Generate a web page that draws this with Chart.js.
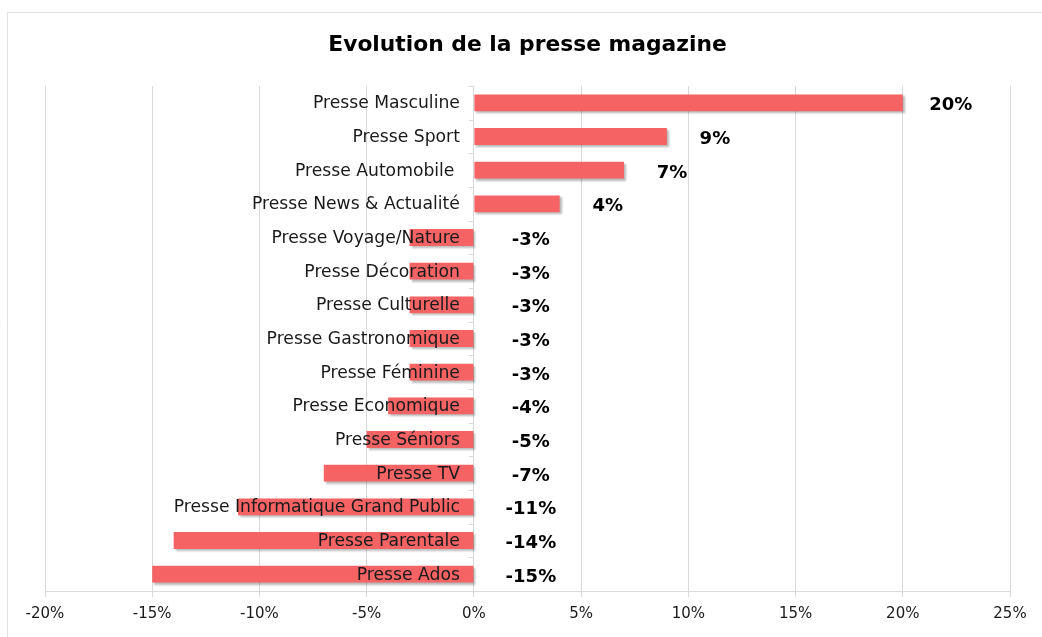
<!DOCTYPE html>
<html>
<head>
<meta charset="utf-8">
<script src="https://cdn.jsdelivr.net/npm/chart.js@4/dist/chart.umd.min.js"></script>
<style>
  html, body { margin: 0; padding: 0; background: #fff; }
  #wrap { width: 1042px; height: 637px; position: relative; }
</style>
</head>
<body>
<div id="wrap"><canvas id="chart" width="1042" height="637"></canvas></div>
<script>
/* =========================
   DATA
========================= */
const categories = [
  "Presse Masculine",
  "Presse Sport",
  "Presse Automobile ",
  "Presse News & Actualité",
  "Presse Voyage/Nature",
  "Presse Décoration",
  "Presse Culturelle",
  "Presse Gastronomique",
  "Presse Féminine",
  "Presse Economique",
  "Presse Séniors",
  "Presse TV",
  "Presse Informatique Grand Public",
  "Presse Parentale",
  "Presse Ados"
];
const evolution = [20, 9, 7, 4, -3, -3, -3, -3, -3, -4, -5, -7, -11, -14, -15];
const axisMin = -20;
const axisMax = 25;
const axisStep = 5;

const FONT = "'DejaVu Sans', Verdana, sans-serif";
const BAR_COLOR = "#f56364";
const GRID_COLOR = "#d9d9d9";

/* =========================
   PLUGINS
========================= */
// thin frame around the chart (top + left, like the original export)
const framePlugin = {
  id: "frame",
  beforeDraw(chart) {
    const ctx = chart.ctx;
    ctx.save();
    ctx.strokeStyle = "#e0e0e0";
    ctx.lineWidth = 1;
    ctx.beginPath();
    ctx.moveTo(7.5, chart.height);
    ctx.lineTo(7.5, 12.5);
    ctx.lineTo(chart.width, 12.5);
    ctx.stroke();
    ctx.restore();
  }
};

// soft drop shadow under the bars + labels on top
const barLabels = {
  id: "barLabels",
  beforeDatasetsDraw(chart) {
    const ctx = chart.ctx;
    ctx.save();
    ctx.shadowColor = "rgba(0,0,0,0.28)";
    ctx.shadowOffsetX = 2;
    ctx.shadowOffsetY = 2;
    ctx.shadowBlur = 2;
  },
  afterDatasetsDraw(chart) {
    const ctx = chart.ctx;
    ctx.restore();

    const x = chart.scales.x;
    const y = chart.scales.y;
    const zero = x.getPixelForValue(0);

    // small tick marks left of the zero axis, between categories
    ctx.save();
    ctx.strokeStyle = GRID_COLOR;
    ctx.lineWidth = 1;
    ctx.beginPath();
    for (let i = 0; i <= categories.length; i++) {
      const py = Math.round(y.getPixelForValue(i - 0.5)) + 0.5;
      ctx.moveTo(zero - 5, py);
      ctx.lineTo(zero, py);
    }
    ctx.stroke();
    ctx.restore();

    ctx.save();
    // category names, right aligned against the zero axis
    ctx.font = "17.2px " + FONT;
    ctx.fillStyle = "#1a1a1a";
    ctx.textAlign = "right";
    ctx.textBaseline = "middle";
    categories.forEach((c, i) => {
      ctx.fillText(c, zero - 14, y.getPixelForValue(i) + 1);
    });

    // value labels
    ctx.font = "bold 18px " + FONT;
    ctx.fillStyle = "#000";
    ctx.textAlign = "center";
    evolution.forEach((v, i) => {
      const py = y.getPixelForValue(i) + 3;
      const px = v >= 0 ? x.getPixelForValue(v) + 48 : zero + 57;
      ctx.fillText(v + "%", px, py);
    });
    ctx.restore();
  }
};

/* =========================
   CHART
========================= */
const ctx = document.getElementById("chart");

new Chart(ctx, {
  type: "bar",
  data: {
    labels: categories,
    datasets: [{
      label: "Evolution",
      data: evolution,
      backgroundColor: BAR_COLOR,
      borderWidth: 0,
      categoryPercentage: 1,
      barPercentage: 0.5
    }]
  },
  options: {
    indexAxis: "y",
    responsive: false,
    animation: false,
    devicePixelRatio: 1,
    layout: {
      padding: { top: 12, left: 45, right: 32, bottom: 6 }
    },
    plugins: {
      legend: { display: false },
      tooltip: { enabled: false },
      title: {
        display: true,
        text: "Evolution de la presse magazine",
        color: "#000",
        font: { family: FONT, size: 21.8, weight: "bold", lineHeight: 1.2 },
        padding: { top: 20, bottom: 27.8 }
      }
    },
    scales: {
      x: {
        min: axisMin,
        max: axisMax,
        ticks: {
          stepSize: axisStep,
          color: "#1a1a1a",
          padding: 8,
          font: { family: FONT, size: 15 },
          callback: v => v + "%"
        },
        grid: {
          color: GRID_COLOR,
          lineWidth: 1,
          tickLength: 6,
          drawTicks: true
        },
        border: { color: GRID_COLOR }
      },
      y: {
        display: false,
        grid: { display: false }
      }
    }
  },
  plugins: [framePlugin, barLabels]
});
</script>
</body>
</html>
